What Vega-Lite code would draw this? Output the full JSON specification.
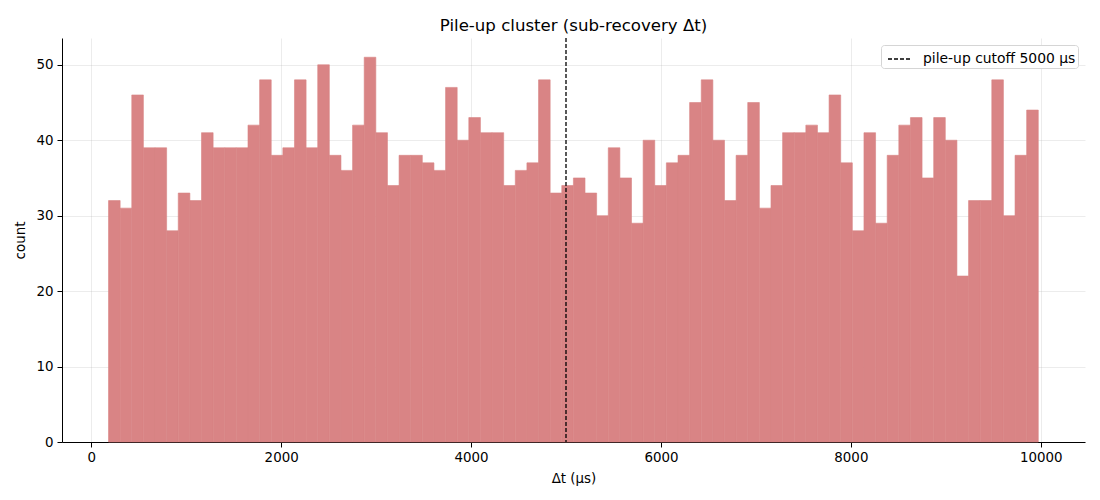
{
  "$schema": "https://vega.github.io/schema/vega-lite/v6.json",
  "autosize": "none",
  "width": 1023,
  "height": 404,
  "padding": {"left": 62, "top": 38, "right": 15, "bottom": 58},
  "background": "white",
  "config": {
    "font": "DejaVu Sans",
    "view": {"stroke": null},
    "axis": {
      "labelFont": "DejaVu Sans",
      "titleFont": "DejaVu Sans",
      "labelFontSize": 13.4,
      "titleFontSize": 13.4,
      "labelColor": "black",
      "titleColor": "black",
      "titleFontWeight": "normal",
      "domainColor": "black",
      "domainWidth": 1,
      "tickColor": "black",
      "tickSize": 5,
      "tickWidth": 1,
      "gridColor": "#b0b0b0",
      "gridOpacity": 0.3,
      "gridWidth": 0.8,
      "zindex": 1
    },
    "title": {"font": "DejaVu Sans", "fontSize": 16.6, "fontWeight": "normal", "color": "black"}
  },
  "title": {"text": "Pile-up cluster (sub-recovery Δt)", "offset": 3},
  "datasets": {
    "bins": [
      {"s": 182.0, "e": 304.4, "n": 32}, {"s": 304.4, "e": 426.8, "n": 31}, {"s": 426.8, "e": 549.2, "n": 46}, {"s": 549.2, "e": 671.6, "n": 39}, {"s": 671.6, "e": 794.0, "n": 39},
      {"s": 794.0, "e": 916.4, "n": 28}, {"s": 916.4, "e": 1038.8, "n": 33}, {"s": 1038.8, "e": 1161.2, "n": 32}, {"s": 1161.2, "e": 1283.6, "n": 41}, {"s": 1283.6, "e": 1406.0, "n": 39},
      {"s": 1406.0, "e": 1528.4, "n": 39}, {"s": 1528.4, "e": 1650.8, "n": 39}, {"s": 1650.8, "e": 1773.2, "n": 42}, {"s": 1773.2, "e": 1895.6, "n": 48}, {"s": 1895.6, "e": 2018.0, "n": 38},
      {"s": 2018.0, "e": 2140.4, "n": 39}, {"s": 2140.4, "e": 2262.8, "n": 48}, {"s": 2262.8, "e": 2385.2, "n": 39}, {"s": 2385.2, "e": 2507.6, "n": 50}, {"s": 2507.6, "e": 2630.0, "n": 38},
      {"s": 2630.0, "e": 2752.4, "n": 36}, {"s": 2752.4, "e": 2874.8, "n": 42}, {"s": 2874.8, "e": 2997.2, "n": 51}, {"s": 2997.2, "e": 3119.6, "n": 41}, {"s": 3119.6, "e": 3242.0, "n": 34},
      {"s": 3242.0, "e": 3364.4, "n": 38}, {"s": 3364.4, "e": 3486.8, "n": 38}, {"s": 3486.8, "e": 3609.2, "n": 37}, {"s": 3609.2, "e": 3731.6, "n": 36}, {"s": 3731.6, "e": 3854.0, "n": 47},
      {"s": 3854.0, "e": 3976.4, "n": 40}, {"s": 3976.4, "e": 4098.8, "n": 43}, {"s": 4098.8, "e": 4221.2, "n": 41}, {"s": 4221.2, "e": 4343.6, "n": 41}, {"s": 4343.6, "e": 4466.0, "n": 34},
      {"s": 4466.0, "e": 4588.4, "n": 36}, {"s": 4588.4, "e": 4710.8, "n": 37}, {"s": 4710.8, "e": 4833.2, "n": 48}, {"s": 4833.2, "e": 4955.6, "n": 33}, {"s": 4955.6, "e": 5078.0, "n": 34},
      {"s": 5078.0, "e": 5200.4, "n": 35}, {"s": 5200.4, "e": 5322.8, "n": 33}, {"s": 5322.8, "e": 5445.2, "n": 30}, {"s": 5445.2, "e": 5567.6, "n": 39}, {"s": 5567.6, "e": 5690.0, "n": 35},
      {"s": 5690.0, "e": 5812.4, "n": 29}, {"s": 5812.4, "e": 5934.8, "n": 40}, {"s": 5934.8, "e": 6057.2, "n": 34}, {"s": 6057.2, "e": 6179.6, "n": 37}, {"s": 6179.6, "e": 6302.0, "n": 38},
      {"s": 6302.0, "e": 6424.4, "n": 45}, {"s": 6424.4, "e": 6546.8, "n": 48}, {"s": 6546.8, "e": 6669.2, "n": 40}, {"s": 6669.2, "e": 6791.6, "n": 32}, {"s": 6791.6, "e": 6914.0, "n": 38},
      {"s": 6914.0, "e": 7036.4, "n": 45}, {"s": 7036.4, "e": 7158.8, "n": 31}, {"s": 7158.8, "e": 7281.2, "n": 34}, {"s": 7281.2, "e": 7403.6, "n": 41}, {"s": 7403.6, "e": 7526.0, "n": 41},
      {"s": 7526.0, "e": 7648.4, "n": 42}, {"s": 7648.4, "e": 7770.8, "n": 41}, {"s": 7770.8, "e": 7893.2, "n": 46}, {"s": 7893.2, "e": 8015.6, "n": 37}, {"s": 8015.6, "e": 8138.0, "n": 28},
      {"s": 8138.0, "e": 8260.4, "n": 41}, {"s": 8260.4, "e": 8382.8, "n": 29}, {"s": 8382.8, "e": 8505.2, "n": 38}, {"s": 8505.2, "e": 8627.6, "n": 42}, {"s": 8627.6, "e": 8750.0, "n": 43},
      {"s": 8750.0, "e": 8872.4, "n": 35}, {"s": 8872.4, "e": 8994.8, "n": 43}, {"s": 8994.8, "e": 9117.2, "n": 40}, {"s": 9117.2, "e": 9239.6, "n": 22}, {"s": 9239.6, "e": 9362.0, "n": 32},
      {"s": 9362.0, "e": 9484.4, "n": 32}, {"s": 9484.4, "e": 9606.8, "n": 48}, {"s": 9606.8, "e": 9729.2, "n": 30}, {"s": 9729.2, "e": 9851.6, "n": 38}, {"s": 9851.6, "e": 9974.0, "n": 44}
    ],
    "cut": [{"x": 5000, "label": "pile-up cutoff 5000 μs"}]
  },
  "layer": [
    {
      "data": {"name": "bins"},
      "mark": {"type": "rect", "fill": "#d98485", "stroke": "#d98485", "strokeWidth": 0.6},
      "encoding": {
        "x": {
          "field": "s", "type": "quantitative",
          "scale": {"domain": [-308, 10466], "nice": false, "zero": false},
          "axis": {"title": "Δt (μs)", "values": [0, 2000, 4000, 6000, 8000, 10000], "format": "d", "labelPadding": 3, "titlePadding": 8, "grid": true}
        },
        "x2": {"field": "e"},
        "y": {
          "field": "n", "type": "quantitative",
          "scale": {"domain": [0, 53.55], "nice": false},
          "axis": {"title": "count", "values": [0, 10, 20, 30, 40, 50], "labelPadding": 4, "titlePadding": 8, "grid": true}
        },
        "y2": {"datum": 0}
      }
    },
    {
      "data": {"name": "cut"},
      "mark": {"type": "rule", "strokeWidth": 1.3},
      "encoding": {
        "x": {"field": "x", "type": "quantitative"},
        "stroke": {
          "field": "label", "type": "nominal",
          "scale": {"range": ["black"]},
          "legend": {
            "title": null, "orient": "top-right", "offset": 7, "zindex": 2,
            "symbolType": "stroke", "symbolSize": 484, "symbolStrokeWidth": 1.3, "symbolOffset": 4,
            "labelFont": "DejaVu Sans", "labelFontSize": 13.9, "labelColor": "black", "labelOffset": 12,
            "fillColor": "white", "strokeColor": "#d5d5d5", "cornerRadius": 3, "padding": 2
          }
        },
        "strokeDash": {
          "field": "label", "type": "nominal",
          "scale": {"range": [[4, 2]]}
        }
      }
    }
  ]
}
